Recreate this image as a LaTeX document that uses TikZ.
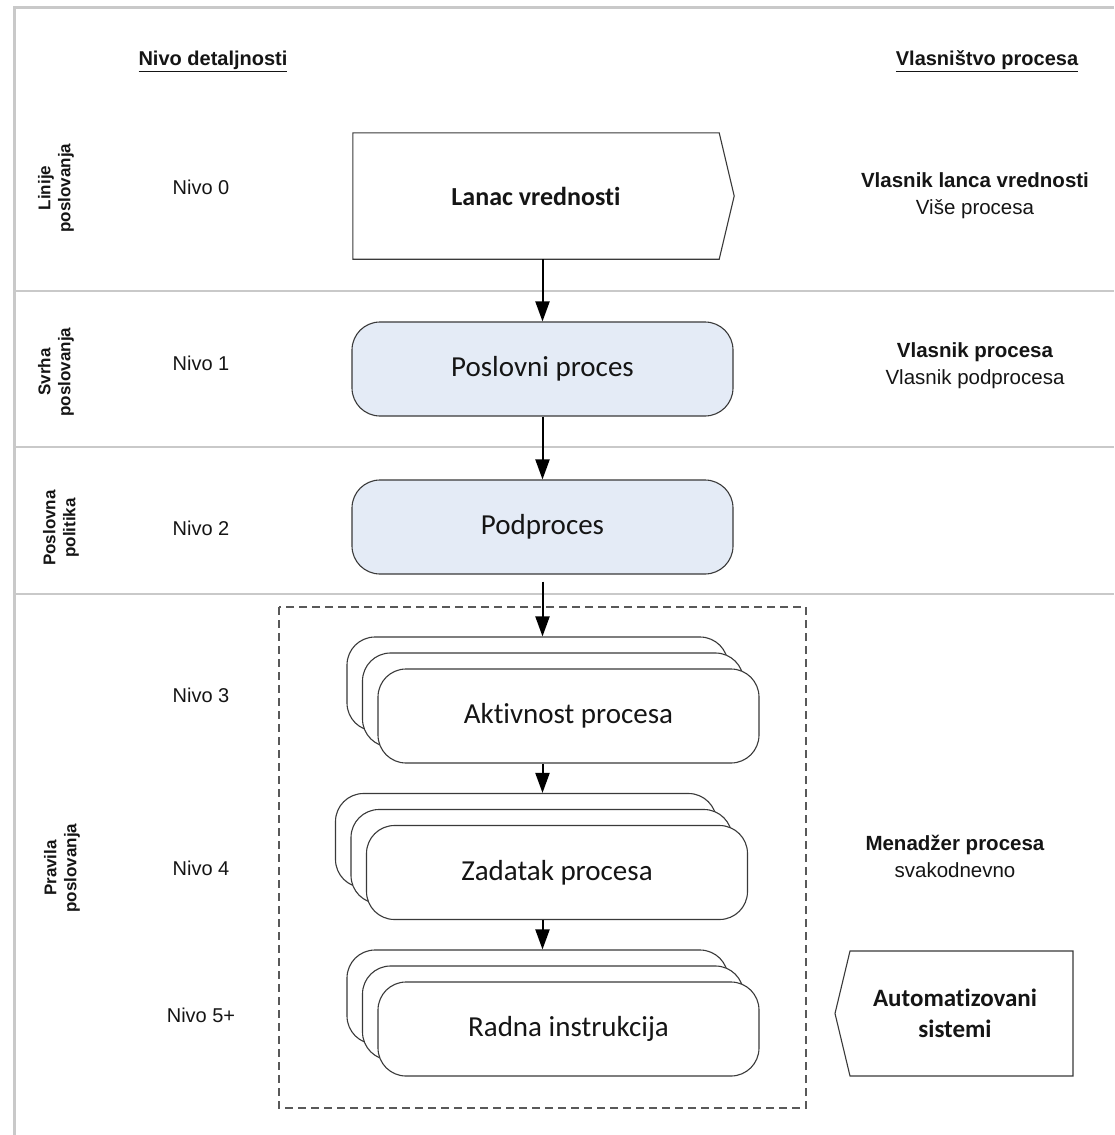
\documentclass[tikz,border=0pt]{standalone}
\usepackage{fontspec}
\setmainfont{Liberation Sans}
\newfontfamily\calfont[Ligatures={CommonOff,ContextualOff}]{Carlito}
\usetikzlibrary{arrows.meta,calc}
\definecolor{framegray}{HTML}{C9C9C9}
\definecolor{procblue}{HTML}{E4EBF6}
\definecolor{inkgray}{HTML}{3A3A3A}
\definecolor{txt}{HTML}{151515}
\begin{document}
\begin{tikzpicture}[x=1pt,y=-1pt,
  frameline/.style={draw=framegray, line width=3pt},
  sepline/.style={draw=framegray, line width=2.5pt},
  lvl/.style={text=txt, font=\fontsize{20}{24}\selectfont},
  sidelab/.style={text=txt, rotate=90, align=center, font=\bfseries\fontsize{17}{20}\selectfont},
  hdr/.style={text=txt, font=\bfseries\fontsize{20}{24}\selectfont},
  owner/.style={text=txt, align=center, font=\fontsize{20.5}{27}\selectfont},
  procbox/.style={draw=inkgray, line width=1.1pt, rounded corners=28pt, fill=procblue,
     minimum width=381pt, minimum height=94pt, inner sep=0pt, text=txt,
     font=\calfont\fontsize{29}{33}\selectfont},
  stackbox/.style={draw=inkgray, line width=1.1pt, rounded corners=28pt, fill=white,
     minimum width=381pt, minimum height=94pt, inner sep=0pt, text=txt,
     font=\calfont\fontsize{29}{33}\selectfont},
  shapeline/.style={draw=inkgray, line width=1.1pt},
  flow/.style={-{Triangle[width=14pt,length=20pt]}, line width=2pt, black},
  dashbox/.style={draw=black!65, line width=1.3pt, dash pattern=on 8pt off 5pt},
]
\useasboundingbox (0,0) rectangle (1114,1135);
\fill[white] (0,0) rectangle (1114,1135);

% frame and separators
\draw[sepline] (14,291) -- (1114,291);
\draw[sepline] (14,447) -- (1114,447);
\draw[sepline] (14,594) -- (1114,594);
\draw[frameline] (1114,7) -- (14,7) -- (14,1135);

% headers
\node[hdr] (hl) at (213,61) {\underline{Nivo detaljnosti}};
\node[hdr] (hr) at (987,61) {\underline{Vlasništvo procesa}};

% side labels
\node[sidelab] (s0) at (56,188) {Linije\\poslovanja};
\node[sidelab] (s1) at (56,372) {Svrha\\poslovanja};
\node[sidelab] (s2) at (61,528) {Poslovna\\politika};
\node[sidelab] (s3) at (62,868) {Pravila\\poslovanja};

% level labels
\node[lvl] (n0) at (201,187) {Nivo 0};
\node[lvl] (n1) at (201,363) {Nivo 1};
\node[lvl] (n2) at (201,528) {Nivo 2};
\node[lvl] (n3) at (201,695) {Nivo 3};
\node[lvl] (n4) at (201,868) {Nivo 4};
\node[lvl] (n5) at (201,1015) {Nivo 5+};

% owners
\node[owner] (o0) at (975,196) {\textbf{Vlasnik lanca vrednosti}\\Više procesa};
\node[owner] (o1) at (975,366) {\textbf{Vlasnik procesa}\\Vlasnik podprocesa};
\node[owner] (o3) at (955,856) {\textbf{Menadžer procesa}\\svakodnevno};

% dashed group
\draw[dashbox] (279,607) rectangle (806,1108);

% value chain
\node[minimum width=366pt, minimum height=126pt, inner sep=0pt, text=txt,
      font=\calfont\bfseries\fontsize{26}{30}\selectfont] (lv) at (536,196) {Lanac vrednosti};
\draw[shapeline] (lv.north west) -- (lv.north east) -- ($(lv.east)+(15,0)$)
   -- (lv.south east) -- (lv.south west) -- cycle;

% process boxes
\node[procbox] (pp) at (542.5,369) {Poslovni proces};
\node[procbox] (pod) at (542.5,527) {Podproces};

% stacks
\node[stackbox] (a3) at (537.5,684) {};
\node[stackbox] (a2) at (553,700) {};
\node[stackbox] (a1) at (568.5,716) {Aktivnost procesa};

\node[stackbox] (z3) at (526,840.5) {};
\node[stackbox] (z2) at (541.5,856.5) {};
\node[stackbox] (z1) at (557,872.5) {Zadatak procesa};

\node[stackbox] (r3) at (537.5,997) {};
\node[stackbox] (r2) at (553,1013) {};
\node[stackbox] (r1) at (568.5,1029) {Radna instrukcija};

% automated systems
\draw[shapeline] (850,951) -- (1073,951) -- (1073,1076) -- (850,1076) -- (835,1013.5) -- cycle;
\node[text=txt, align=center, font=\calfont\bfseries\fontsize{25}{31}\selectfont] (auto) at (955,1013)
   {Automatizovani\\sistemi};

% connectors
\draw[flow] (pp.north |- lv.south) -- (pp.north);
\draw[flow] (pp.south) -- (pod.north);
\draw[flow, shorten <=7pt] (pod.south) -- (pod.south |- a3.north);
\draw[flow] (pod.south |- a1.south) -- (pod.south |- z3.north);
\draw[flow] (pod.south |- z1.south) -- (pod.south |- r3.north);
\end{tikzpicture}
\end{document}
